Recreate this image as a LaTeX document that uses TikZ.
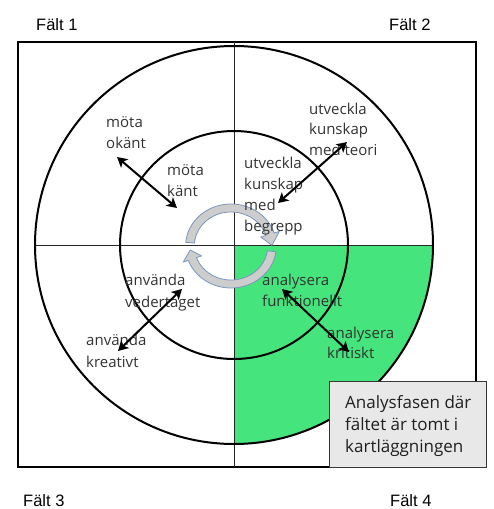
\documentclass[tikz,border=0pt]{standalone}
\usepackage{fontspec}
\setmainfont{Open Sans}
\newfontfamily\arialfont{Liberation Sans}
\usetikzlibrary{arrows.meta,calc}
\definecolor{fieldgreen}{RGB}{70,228,124}
\definecolor{labelgray}{RGB}{50,50,50}
\definecolor{cyclefill}{RGB}{205,205,205}
\definecolor{cycleline}{RGB}{120,150,190}
\definecolor{calloutfill}{RGB}{232,232,232}
\definecolor{calloutline}{RGB}{55,55,55}
\newcommand\vlines[2][21pt]{\vtop{\baselineskip=#1\lineskiplimit=-30pt\lineskip=0pt #2}}
\begin{document}
\begin{tikzpicture}[x=1pt,y=-1pt,
  lbl/.style={anchor=base west, inner sep=0pt, text=labelgray, font=\fontsize{15}{21}\selectfont},
  falt/.style={anchor=base west, inner sep=0pt, text=black, font=\arialfont\fontsize{16.5}{20}\selectfont},
  link/.style={{Stealth[length=10pt,width=11pt,inset=2.5pt]}-{Stealth[length=10pt,width=11pt,inset=2.5pt]}, line width=2pt, black},
  ring/.style={line width=2pt, black},
  axis/.style={line width=1pt, black!85},
  cyc/.style={fill=cyclefill, draw=cycleline, line width=0.8pt, line join=round}]
\useasboundingbox (0,0) rectangle (493,509);

% frame
\draw[line width=1.5pt] (18,42) rectangle (476,467);
\coordinate (C) at (234,245);

% green quadrant
\fill[fieldgreen] (C) -- (433,245) arc[start angle=0, end angle=-90, radius=199pt] -- cycle;

% axes
\draw[axis] (234,42) -- (234,467);
\draw[axis] (35,245) -- (433,245);

% circles
\draw[ring] (C) circle[radius=199pt];
\draw[ring] (C) circle[radius=114pt];

% cycle arrow
\filldraw[cyc]
  plot[domain=185:342,samples=40] ({231+45.4*cos(\x)},{246+42*sin(\x)})
  -- ({231+50.8*cos(342)},{246+47*sin(342)})
  -- ({231+41*cos(359)},{246+38*sin(359)})
  -- ({231+31.3*cos(342)},{246+29*sin(342)})
  -- plot[domain=342:185,samples=40] ({231+36.7*cos(\x)},{246+34*sin(\x)})
  -- cycle;
\filldraw[cyc]
  plot[domain=8:160,samples=40] ({231+45.4*cos(\x)},{246+42*sin(\x)})
  -- ({231+50.8*cos(160)},{246+47*sin(160)})
  -- ({231+41*cos(174)},{246+38*sin(174)})
  -- ({231+31.3*cos(160)},{246+29*sin(160)})
  -- plot[domain=160:8,samples=40] ({231+36.7*cos(\x)},{246+34*sin(\x)})
  -- cycle;

% labels
\node[lbl] (motaokant) at (106,127) {\vlines{\hbox{möta}\hbox{okänt}}};
\node[lbl] (motakant) at (167,175) {\vlines{\hbox{möta}\hbox{känt}}};
\node[lbl] (teori) at (309,114) {\vlines[20.5pt]{\hbox{utveckla}\hbox{kunskap}\hbox{med teori}}};
\node[lbl] (begrepp) at (244,168) {\vlines[21.3pt]{\hbox{utveckla}\hbox{kunskap}\hbox{med}\hbox{begrepp}}};
\node[lbl] (vedertaget) at (125,285) {\vlines[22pt]{\hbox{använda}\hbox{vedertaget}}};
\node[lbl] (kreativt) at (86,345) {\vlines[22pt]{\hbox{använda}\hbox{kreativt}}};
\node[lbl] (funktionellt) at (262,285) {\vlines[21pt]{\hbox{analysera}\hbox{funktionellt}}};
\node[lbl] (kritiskt) at (327,338) {\vlines[20pt]{\hbox{analysera}\hbox{kritiskt}}};

% double arrows
\coordinate (a1) at (117,157); \coordinate (b1) at (177,208);
\coordinate (a2) at (347,142); \coordinate (b2) at (278,203);
\coordinate (a3) at (182,289); \coordinate (b3) at (118,351);
\coordinate (a4) at (282,289); \coordinate (b4) at (349,352);
\draw[link] (a1) -- (b1);
\draw[link] (a2) -- (b2);
\draw[link] (a3) -- (b3);
\draw[link] (a4) -- (b4);

% callout
\node[draw=calloutline, fill=calloutfill, line width=1.3pt, anchor=north west, inner sep=0pt,
      minimum width=157pt, minimum height=86pt] (callout) at (329,381) {};
\node[anchor=base west, inner sep=0pt, text=black!88, font=\fontsize{17}{22}\selectfont] (callouttext) at (345,408)
  {\vlines[22pt]{\hbox{Analysfasen där}\hbox{fältet är tomt i}\hbox{kartläggningen}}};

% field labels
\node[falt] (f1) at (36,30) {Fält 1};
\node[falt] (f2) at (389,30) {Fält 2};
\node[falt] (f3) at (23,506) {Fält 3};
\node[falt] (f4) at (390,506) {Fält 4};
\end{tikzpicture}
\end{document}
